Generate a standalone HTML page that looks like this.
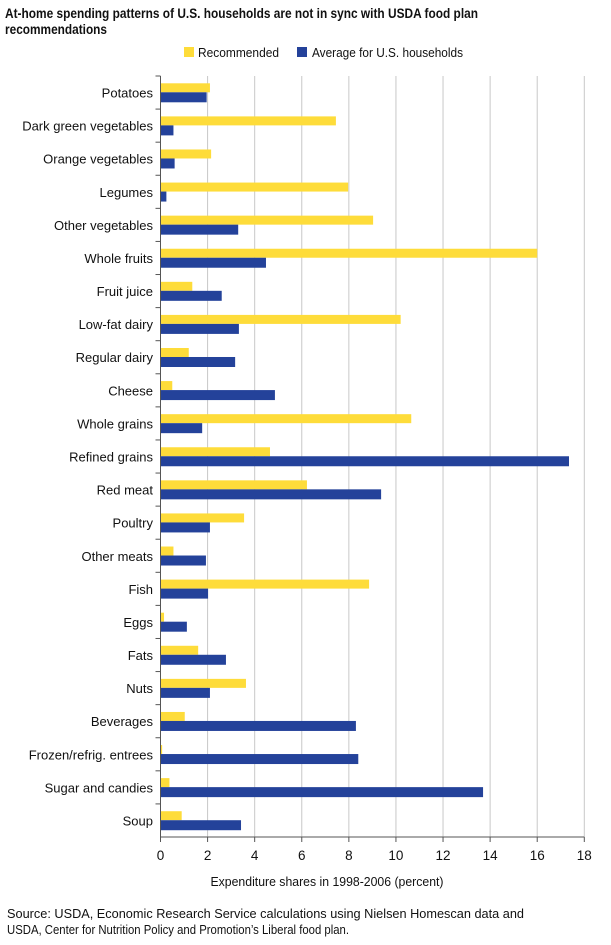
<!DOCTYPE html>
<html><head><meta charset="utf-8"><style>
html,body{margin:0;padding:0;background:#fff}
svg{display:block;font-family:"Liberation Sans",Arial,sans-serif}
</style></head><body>
<svg id="chart" width="611" height="945" viewBox="0 0 611 945" xmlns="http://www.w3.org/2000/svg">
<text x="5" y="18" font-size="13.5" font-weight="bold" fill="#111" textLength="473" lengthAdjust="spacingAndGlyphs">At-home spending patterns of U.S. households are not in sync with USDA food plan</text>
<text x="5" y="34" font-size="13.5" font-weight="bold" fill="#111" textLength="102" lengthAdjust="spacingAndGlyphs">recommendations</text>
<g>
<rect x="184" y="47" width="10" height="10" fill="#fedc3a"/>
<text x="198" y="57" font-size="13" fill="#111" textLength="81" lengthAdjust="spacingAndGlyphs">Recommended</text>
<rect x="297" y="47" width="10" height="10" fill="#24429a"/>
<text x="312" y="57" font-size="13" fill="#111" textLength="151" lengthAdjust="spacingAndGlyphs">Average for U.S. households</text>
</g>
<g id="grid"></g><g id="bars"></g><g id="axes"></g>
<text x="327" y="886" font-size="13" fill="#111" text-anchor="middle" textLength="233" lengthAdjust="spacingAndGlyphs">Expenditure shares in 1998-2006 (percent)</text>
<text x="7" y="918" font-size="13" fill="#111" textLength="517" lengthAdjust="spacingAndGlyphs">Source: USDA, Economic Research Service calculations using Nielsen Homescan data and</text>
<text x="7" y="934" font-size="13" fill="#111" textLength="342" lengthAdjust="spacingAndGlyphs">USDA, Center for Nutrition Policy and Promotion’s Liberal food plan.</text>
</svg>
<script>
const categories = ["Potatoes","Dark green vegetables","Orange vegetables","Legumes","Other vegetables","Whole fruits","Fruit juice","Low-fat dairy","Regular dairy","Cheese","Whole grains","Refined grains","Red meat","Poultry","Other meats","Fish","Eggs","Fats","Nuts","Beverages","Frozen/refrig. entrees","Sugar and candies","Soup"];
const recommended = [2.1,7.45,2.15,7.97,9.03,16.0,1.35,10.2,1.2,0.5,10.65,4.65,6.22,3.55,0.55,8.86,0.15,1.6,3.63,1.03,0.07,0.38,0.9];
const average = [1.96,0.55,0.6,0.25,3.3,4.48,2.6,3.33,3.17,4.86,1.77,17.35,9.37,2.1,1.93,2.02,1.12,2.78,2.1,8.3,8.4,13.7,3.42];
const xTicks = [0,2,4,6,8,10,12,14,16,18];

const NS="http://www.w3.org/2000/svg";
const X0=160.5, X1=584.3, XMAX=18, TOP=76, BOTTOM=837;
const band=(BOTTOM-TOP)/categories.length;
function xScale(v){return X0+(v/XMAX)*(X1-X0);}
function yBand(i){return TOP+i*band;}
function mk(tag,attrs,parent){const e=document.createElementNS(NS,tag);for(const k in attrs)e.setAttribute(k,attrs[k]);parent.appendChild(e);return e;}
const grid=document.getElementById('grid'),bars=document.getElementById('bars'),axes=document.getElementById('axes');
xTicks.forEach(t=>{
  const x=xScale(t);
  if(t>0){const g=mk('line',{x1:x,x2:x,y1:TOP,y2:BOTTOM,stroke:'#c8c8c8','stroke-width':1},grid);
  
  }
  const tk=mk('line',{x1:x,x2:x,y1:BOTTOM,y2:BOTTOM+5,stroke:'#555','stroke-width':1},axes);
  
  
  const lb=mk('text',{x:x,y:BOTTOM+23,'font-size':13.5,fill:'#111','text-anchor':'middle'},axes);
  lb.textContent=t;
  
  
});
categories.forEach((c,i)=>{
  const y=yBand(i);
  const r1=mk('rect',{x:X0,y:y+7.3,width:xScale(recommended[i])-X0,height:9,fill:'#fedc3a'},bars);
  
  
  const r2=mk('rect',{x:X0,y:y+16.3,width:xScale(average[i])-X0,height:10,fill:'#24429a'},bars);
  
  
  const lb=mk('text',{x:153,y:y+band/2+5,'font-size':13,fill:'#111','text-anchor':'end'},axes);
  lb.textContent=c;
  
  
  const tk=mk('line',{x1:X0-5,x2:X0,y1:y,y2:y,stroke:'#555','stroke-width':1},axes);
  
  
});
const ya=mk('line',{x1:X0,x2:X0,y1:TOP,y2:BOTTOM,stroke:'#555','stroke-width':1},axes);


const xa=mk('line',{x1:X0,x2:X1,y1:BOTTOM,y2:BOTTOM,stroke:'#555','stroke-width':1},axes);


</script>
</body></html>
